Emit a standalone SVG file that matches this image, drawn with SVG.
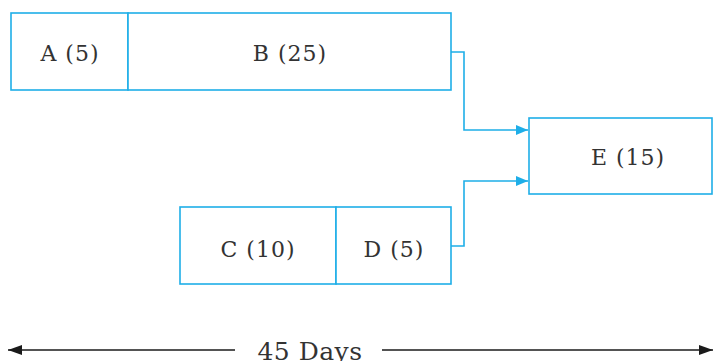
<svg xmlns="http://www.w3.org/2000/svg" width="713" height="361" viewBox="0 0 713 361">
  <style>
    .box { fill: #ffffff; stroke: #1eaee8; stroke-width: 1.6; }
    .lbl { font-family: "DejaVu Serif", "Liberation Serif", serif; font-size: 22px; letter-spacing: 1px; fill: #333333; text-anchor: middle; }
    .conn { fill: none; stroke: #1eaee8; stroke-width: 1.6; }
    .dim { fill: none; stroke: #1a1a1a; stroke-width: 1.6; }
  </style>
  <defs>
    <marker id="arr" viewBox="0 0 12 10" refX="12" refY="5" markerWidth="12" markerHeight="10" markerUnits="userSpaceOnUse" orient="auto">
      <path d="M0,0 L12,5 L0,10 Z" fill="#1eaee8"/>
    </marker>
    <marker id="dimarr" viewBox="0 0 14 10" refX="14" refY="5" markerWidth="14" markerHeight="10" markerUnits="userSpaceOnUse" orient="auto">
      <path d="M0,0 L14,5 L0,10 Z" fill="#1a1a1a"/>
    </marker>
  </defs>

  <g id="node-A">
    <rect class="box" x="11" y="13" width="117" height="77"/>
    <text class="lbl" x="70" y="61">A (5)</text>
  </g>
  <g id="node-B">
    <rect class="box" x="128" y="13" width="323" height="77"/>
    <text class="lbl" x="290" y="61">B (25)</text>
  </g>
  <g id="node-C">
    <rect class="box" x="180" y="207" width="156" height="77"/>
    <text class="lbl" x="258" y="257">C (10)</text>
  </g>
  <g id="node-D">
    <rect class="box" x="336" y="207" width="115" height="77"/>
    <text class="lbl" x="394" y="257">D (5)</text>
  </g>
  <g id="node-E">
    <rect class="box" x="529" y="118" width="183" height="76"/>
    <text class="lbl" x="628" y="165">E (15)</text>
  </g>

  <g id="connectors">
    <polyline class="conn" points="451,52 464,52 464,130 528,130" marker-end="url(#arr)"/>
    <polyline class="conn" points="451,246 464,246 464,181 528,181" marker-end="url(#arr)"/>
  </g>

  <g id="duration">
    <line class="dim" x1="235" y1="350" x2="8" y2="350" marker-end="url(#dimarr)"/>
    <line class="dim" x1="382" y1="350" x2="713" y2="350" marker-end="url(#dimarr)"/>
    <text class="lbl" x="310" y="360" style="font-size:25px; letter-spacing:0.5px">45 Days</text>
  </g>
</svg>
